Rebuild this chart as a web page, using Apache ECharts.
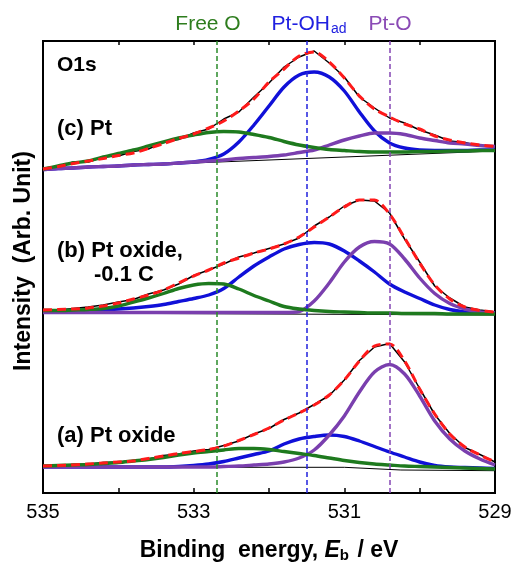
<!DOCTYPE html>
<html>
<head>
<meta charset="utf-8">
<script src="https://cdn.jsdelivr.net/npm/echarts@6/dist/echarts.min.js"></script>
<style>
html,body{margin:0;padding:0;background:#fff;overflow:hidden;}
#c{width:515px;height:562px;}
</style>
</head>
<body>
<div id="c"></div>
<script>
// Binding energy grid (eV)
const energies = [535.0,534.8,534.6,534.4,534.2,534.0,533.8,533.6,533.4,533.2,533.0,532.8,532.6,532.4,532.2,532.0,531.8,531.6,531.4,531.2,531.0,530.8,530.6,530.4,530.2,530.0,529.8,529.6,529.4,529.2,529.0];
const tickLabels = [535, 533, 531, 529];
const refEnergies = [532.7, 531.5, 530.4];
const refNames = ['Free O', 'Pt-OH_ad', 'Pt-O'];

// (c) Pt
const cRaw    = [325,326,331,331,336,337,341.5,344,351,353.5,360,364,374,381,396,410,426,436,442,430,416,396,385,375,370,363,358,352,350.5,347,347];
const cFit    = [324,326.5,329.5,332,334.5,337.5,340,344.5,349.5,354.5,359,365,372,382,394,411,424,437,441,431,415,397,384,376,369,364,357,353,350,348,346.5];
const cBlue   = [323.5,324.5,325,326,326.5,327,328,328.5,329,330,331,333.5,339,351,368,387,406,418,421,416,402,381,362,350,345,343,342.5,342.5,342.5,343,343];
const cGreen  = [324,327,330,332,336,339.5,343,347,351,355,358,360.5,361.5,361,358.5,355.5,351.5,348,345.5,343.5,342.5,341.5,341,341,341,341.5,341.5,342,342,342.5,342.5];
const cPurple = [323.5,324.5,325,326,326.5,327,328,328.5,329,330,331,332,333,334.5,335.5,336.5,338,340.5,343,348,353,357,360,360,358.5,355,352.5,350,349,347.5,346.5];
const cBgE = [535, 529];
const cBg  = [324, 342];

// (b) Pt oxide, -0.1 C
const bRaw    = [183.5,183,184.5,186,188,191,193.5,199,203,209,217.5,223,229,236,240,244.5,249,255,267,276,287,293,292,280,254,231,207,195,186,183,181];
const bFit    = [183,183.5,184,185,187,190,194,198,203,210,217,223,230,235,240,244,249,256,266,276,286,293,293,279,255,230,208,194,186,182.5,181];
const bBlue   = [181.5,182,182.5,183,183.5,184,185,186.5,188.5,191.5,194.5,198,204.5,216,227,236,244,248.5,250.5,249,242,232,221,209,201,194.5,188,183.5,181,180,180];
const bGreen  = [182.5,182.5,183,183.5,184.5,187,191,195,199.5,204.5,208,209.5,209,204,197.5,192,186.5,184,182.5,181.5,181,180.5,180,180,179.5,179.5,179.5,179,179,179,179];
const bPurple = [180.5,180.5,180.5,180.5,180.5,180.5,180.5,180.5,180.5,180.5,180.5,180.5,180.5,180.5,180.5,180.5,180.5,181.5,192,210,231,246,251.5,249,234,215,199.5,189.5,184,181,180];
const bBgE = [535, 529];
const bBg  = [180, 178];

// (a) Pt oxide
const aRaw    = [27.5,27,28.5,29,30.5,31,32.5,34,37.5,39,42,43.5,47.5,52,59,64.5,73.5,80,88.5,97.5,113,132.5,146,149.5,131,104.5,78.5,59.5,45.5,38.5,31];
const aFit    = [27,27.5,28,29,30,31,32,34.5,37,39.5,41.5,43.5,47,52.5,58.5,65,73,80,88,98,113,132,147,149,132,104,79,59,46,38,31];
const aBlue   = [26,26,26,26,26,26,26,26,26,26.5,27.5,29,31.5,35,38.5,42,49,54,56.5,58,56.5,52,46.5,41,36,31,27.5,26,25.5,25,24.5];
const aGreen  = [27,27.5,28,28.5,29.5,30.5,32,33.5,35.5,38,40,41.5,43,44.5,44.5,43.5,41.5,39.5,37.5,35,32.5,30.5,29,28,27,26.5,26,25.5,25,24.5,24];
const aPurple = [26,26,26,26,26,26,26,26,26,26,26,26,26.5,27,28,29,31,35,43,58,77,101,121,128.5,119,97,72,54,42,34,28];
const aBgE = [535, 531, 530.25, 529];
const aBg  = [25.7, 25.7, 23, 22.3];

const FONT = '"Liberation Sans", Arial, sans-serif';
const GREEN = '#1e7a1e', BLUE = '#1010d8', PURPLE = '#7a3fae', RED = '#ff1a1a';
const refColors = ['#2a8a2a', '#2222dd', '#8446b4'];

function pts(xs, ys){ return xs.map((x,i)=>[x, ys[i]]); }
function line(name, xs, ys, color, width, opts){
  return Object.assign({
    name, type:'line', data: pts(xs, ys), showSymbol:false, symbol:'none',
    lineStyle:{color, width}, silent:true, animation:false, z:2
  }, opts||{});
}

const series = [];
[[cBgE,cBg,cRaw,cFit,cBlue,cPurple,cGreen],[bBgE,bBg,bRaw,bFit,bBlue,bPurple,bGreen],[aBgE,aBg,aRaw,aFit,aBlue,aPurple,aGreen]].forEach((p,idx)=>{
  series.push(line('bg'+idx, p[0], p[1], '#000', 1));
  series.push(line('raw'+idx, energies, p[2], '#000', 1.5));
  series.push(line('blue'+idx, energies, p[4], BLUE, 3.4, {smooth:0.3, z:3}));
  series.push(line('purple'+idx, energies, p[5], PURPLE, 3.4, {smooth:0.3, z:3}));
  series.push(line('green'+idx, energies, p[6], GREEN, 3.4, {smooth:0.3, z:3}));
  series.push(line('fit'+idx, energies, p[3], RED, 3, {smooth:0.3, z:4, lineStyle:{color:RED, width:3, type:[9,5]}}));
});
// reference dashed lines
series.push({
  type:'line', data:[], silent:true, animation:false, z:5,
  markLine:{
    silent:true, symbol:'none', animation:false, label:{show:false},
    data: refEnergies.map((e,i)=>({xAxis:e, lineStyle:{color:refColors[i], width:1.5, type:[5,3]}}))
  }
});

const chart = echarts.init(document.getElementById('c'), null, {renderer:'canvas'});
chart.setOption({
  animation:false,
  backgroundColor:'#fff',
  grid:{left:43, top:41, width:452, height:452, show:true, borderColor:'#000', borderWidth:2, backgroundColor:'transparent', containLabel:false, outerBoundsMode:'none'},
  xAxis:[{
    type:'value', min:529, max:535, interval:1, inverse:true, position:'bottom',
    axisLine:{show:true, onZero:false, lineStyle:{color:'#000', width:2}},
    axisTick:{show:true, inside:true, length:5, lineStyle:{color:'#000', width:1.5}},
    axisLabel:{show:true, margin:9, fontSize:20, color:'#000', fontFamily:FONT,
      formatter:(v)=> tickLabels.includes(Math.round(v)) ? String(Math.round(v)) : ''},
    splitLine:{show:false},
    name:'{b|Binding  energy, }{i|E}{s|b}{b| / eV}',
    nameLocation:'middle', nameGap:45,
    nameTextStyle:{rich:{
      b:{fontSize:23, fontWeight:'bold', fontFamily:FONT, color:'#000'},
      i:{fontSize:23, fontWeight:'bold', fontStyle:'italic', fontFamily:FONT, color:'#000'},
      s:{fontSize:15, fontWeight:'bold', fontFamily:FONT, color:'#000', verticalAlign:'bottom', padding:[10,2,0,0]}
    }}
  },{
    type:'value', min:529, max:535, interval:1, inverse:true, position:'top',
    axisLine:{show:true, onZero:false, lineStyle:{color:'#000', width:2}},
    axisTick:{show:true, inside:true, length:4, lineStyle:{color:'#000', width:1.5}},
    axisLabel:{show:false}, splitLine:{show:false}
  }],
  yAxis:{
    type:'value', min:0, max:452,
    axisLine:{show:false}, axisTick:{show:false}, axisLabel:{show:false}, splitLine:{show:false},
    name:'Intensity  (Arb. Unit)', nameLocation:'middle', nameGap:8,
    nameTextStyle:{fontSize:23, fontWeight:'bold', fontFamily:FONT, color:'#000', padding:[0,0,0,12]}
  },
  graphic:[
    {type:'text', x:208, y:24, style:{text:refNames[0], fill:'#2e7d1e', font:'21px '+FONT, textAlign:'center', textVerticalAlign:'middle'}},
    {type:'text', x:309, y:24, style:{text:'{a|Pt-OH}{s|ad}', textAlign:'center', textVerticalAlign:'middle',
      rich:{a:{fontSize:21, fontFamily:FONT, fill:'#2020e0', color:'#2020e0'}, s:{fontSize:14, fontFamily:FONT, fill:'#2020e0', color:'#2020e0', verticalAlign:'bottom', padding:[10,0,0,1]}}}},
    {type:'text', x:390, y:24, style:{text:refNames[2], fill:'#8a4ab5', font:'21px '+FONT, textAlign:'center', textVerticalAlign:'middle'}},
    {type:'text', x:57, y:65, style:{text:'O1s', fill:'#000', font:'bold 21px '+FONT, textAlign:'left', textVerticalAlign:'middle'}},
    {type:'text', x:57, y:129, style:{text:'(c) Pt', fill:'#000', font:'bold 22px '+FONT, textAlign:'left', textVerticalAlign:'middle'}},
    {type:'text', x:57, y:251, style:{text:'(b) Pt oxide,', fill:'#000', font:'bold 22px '+FONT, textAlign:'left', textVerticalAlign:'middle'}},
    {type:'text', x:94, y:275, style:{text:'-0.1 C', fill:'#000', font:'bold 22px '+FONT, textAlign:'left', textVerticalAlign:'middle'}},
    {type:'text', x:57, y:436, style:{text:'(a) Pt oxide', fill:'#000', font:'bold 22px '+FONT, textAlign:'left', textVerticalAlign:'middle'}}
  ],
  series
});
</script>
</body>
</html>
